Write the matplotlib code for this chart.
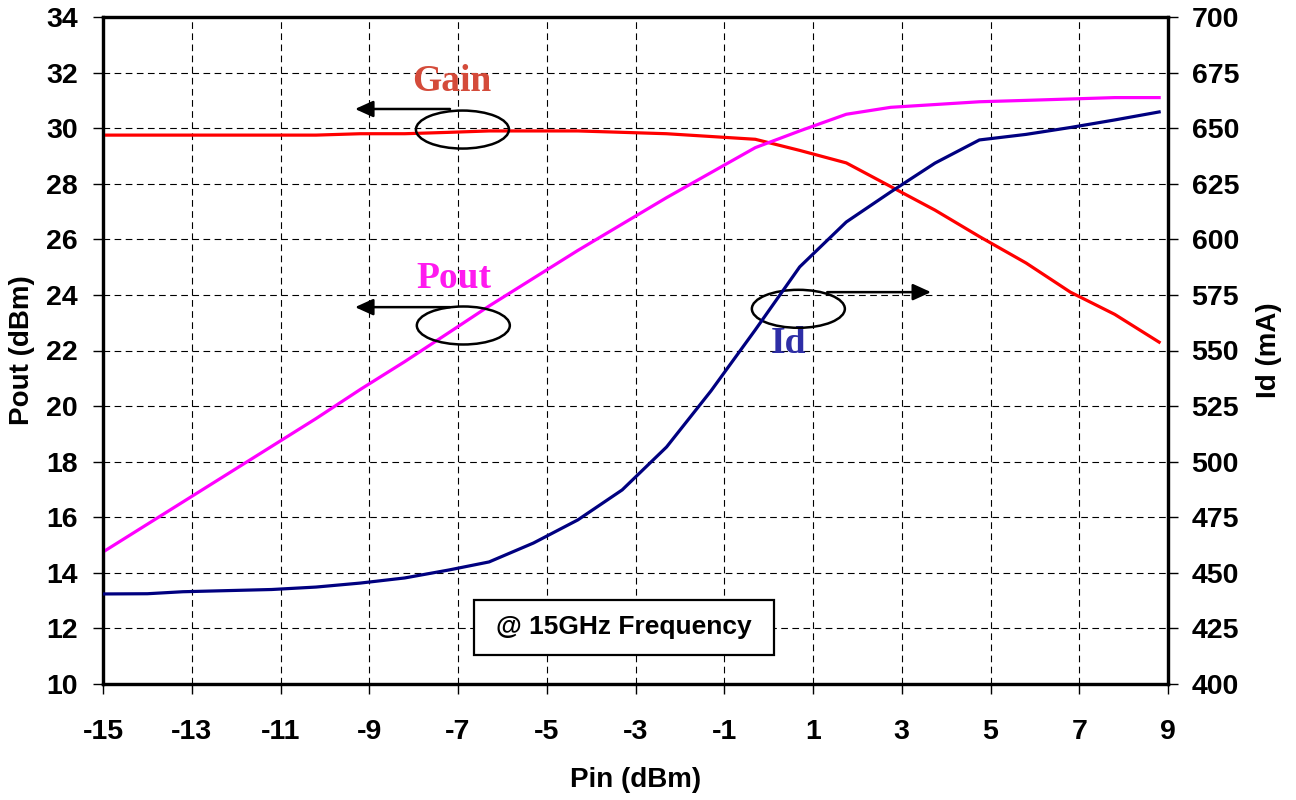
import matplotlib
matplotlib.use("Agg")
import matplotlib.pyplot as plt
from matplotlib.patches import Ellipse, Rectangle

# Input power sweep (dBm)
pin = [-15.0, -14.0, -13.2, -12.2, -11.2, -10.2, -9.2, -8.2, -7.2, -6.3, -5.3, -4.3,
       -3.3, -2.3, -1.3, -0.3, 0.7, 1.75, 2.75, 3.75, 4.75, 5.8, 6.8, 7.8, 8.8]

gain = [29.75, 29.75, 29.75, 29.75, 29.75, 29.75, 29.8, 29.8, 29.85, 29.9, 29.9, 29.9,
        29.85, 29.8, 29.7, 29.6, 29.2, 28.75, 27.9, 27.05, 26.1, 25.15, 24.1, 23.3, 22.3]

pout = [14.75, 15.75, 16.55, 17.55, 18.55, 19.55, 20.6, 21.6, 22.65, 23.6, 24.6, 25.6,
        26.55, 27.5, 28.4, 29.3, 29.9, 30.5, 30.75, 30.85, 30.95, 31.0, 31.05, 31.1, 31.1]

id_ma = [440.5, 440.6, 441.5, 442.0, 442.5, 443.6, 445.4, 447.7, 451.3, 454.9, 463.4, 473.8,
         487.3, 506.6, 531.8, 559.3, 587.6, 607.8, 621.3, 634.3, 644.7, 647.2, 650.3, 653.7, 657.3]

xticks = list(range(-15, 10, 2))
left_ticks = list(range(10, 35, 2))
right_ticks = list(range(400, 701, 25))

plt.rcParams["font.family"] = ["Liberation Sans", "DejaVu Sans"]
plt.rcParams["font.weight"] = "bold"

fig = plt.figure(figsize=(12.96, 8), dpi=100)
ax = fig.add_axes([103 / 1296, 1 - 684 / 800, 1065 / 1296, 667 / 800])
ax2 = ax.twinx()

ax.plot(pin, gain, color="#ff0000", lw=2.3, zorder=3)
ax.plot(pin, pout, color="#ff00ff", lw=2.3, zorder=3)
ax2.plot(pin, id_ma, color="#000080", lw=2.3, zorder=3)

ax.set_xlim(-15, 9)
ax.set_ylim(10, 34)
ax2.set_ylim(400, 700)
ax.set_xticks(xticks)
ax.set_yticks(left_ticks)
ax2.set_yticks(right_ticks)
ax.set_xticklabels([str(v) for v in xticks])

ax.grid(True, color="black", linestyle=(0, (6, 4)), linewidth=0.8)

for a in (ax, ax2):
    for s in a.spines.values():
        s.set_linewidth(2.3)
    a.tick_params(axis="both", direction="out", length=7, width=1, labelsize=20.5)
ax.tick_params(axis="y", pad=11)
ax.tick_params(axis="x", pad=18)
ax2.tick_params(axis="y", pad=10)

ax.set_xlabel("Pin (dBm)", fontsize=20, fontweight="bold")
ax.set_ylabel("Pout (dBm)", fontsize=20, fontweight="bold")
ax2.set_ylabel("Id (mA)", fontsize=20, fontweight="bold")
ax.xaxis.set_label_coords(0.5, -0.125)
ax.yaxis.set_label_coords(-0.064, 0.5)
ax2.yaxis.set_label_coords(1.083, 0.5)

# series labels with ellipse + arrow callouts
serif = ["Liberation Serif", "DejaVu Serif"]
ax.text(-7.15, 31.35, "Gain", color="#d44b3a", fontsize=27, fontweight="bold",
        family=serif, ha="center", va="baseline")
ax.text(-7.1, 24.25, "Pout", color="#ff1aef", fontsize=27, fontweight="bold",
        family=serif, ha="center", va="baseline")
ax.text(0.45, 21.9, "Id", color="#2e2ea6", fontsize=27, fontweight="bold",
        family=serif, ha="center", va="baseline")

ell_w, ell_h = 93 / 44.375, 38 / 27.79
for cx, cy in [(-6.9, 29.95), (-6.88, 22.9), (0.67, 23.5)]:
    ax.add_patch(Ellipse((cx, cy), ell_w, ell_h, fill=False, ec="black", lw=1.8, zorder=4))

arrow = dict(arrowstyle="-|>,head_length=1.1,head_width=0.5", color="black", lw=1.8,
             shrinkA=0, shrinkB=0)
ax.annotate("", xy=(-9.32, 30.69), xytext=(-7.18, 30.69), arrowprops=arrow)
ax.annotate("", xy=(-9.32, 23.56), xytext=(-7.18, 23.56), arrowprops=arrow)
ax.annotate("", xy=(3.66, 24.1), xytext=(1.32, 24.1), arrowprops=arrow)

# frequency note box
ax.add_patch(Rectangle((0.3484, 0.0435), 0.2817, 0.0825, transform=ax.transAxes,
                       fill=True, fc="white", ec="black", lw=1.6, zorder=5))
ax.text(0.4893, 0.085, "@ 15GHz Frequency", transform=ax.transAxes, fontsize=19,
        fontweight="bold", ha="center", va="center", zorder=6)

fig.savefig("out.png", dpi=100)
